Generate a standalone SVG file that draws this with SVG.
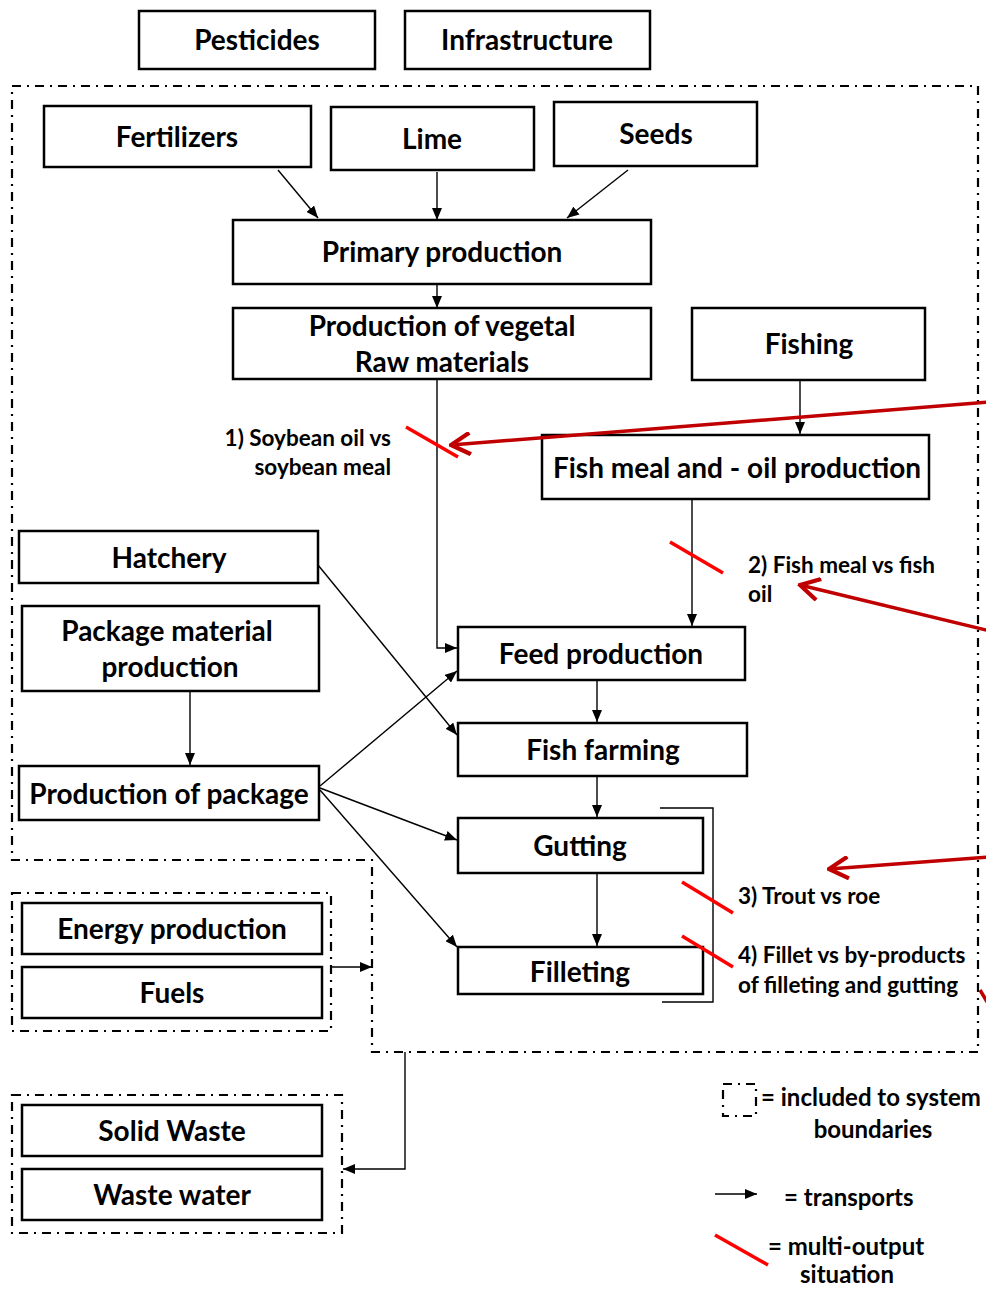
<svg xmlns="http://www.w3.org/2000/svg" width="986" height="1290" viewBox="0 0 986 1290">
<style>
.box{fill:#fff;stroke:#000;stroke-width:2.5}
.t{font-family:Lato,"Open Sans",sans-serif;font-weight:bold;font-size:28px;text-anchor:middle;fill:#000}
.s{font-family:Lato,"Open Sans",sans-serif;font-weight:bold;font-size:22.5px;fill:#000}
.l{font-size:24px}
.bd{fill:none;stroke:#000;stroke-width:2.2;stroke-dasharray:9 6 2 6}
.c{fill:none;stroke:#000;stroke-width:1.4}
.r{stroke:#f00;stroke-width:3.5}
.ra{fill:none;stroke:#c00000;stroke-width:3.5}
</style>
<defs>
<marker id="a" viewBox="0 0 12 10" refX="12" refY="5" markerWidth="12" markerHeight="10" markerUnits="userSpaceOnUse" orient="auto"><path d="M0,0L12,5L0,10z" fill="#000"/></marker>
<marker id="rh" viewBox="0 0 20 20" refX="18" refY="10" markerWidth="24" markerHeight="24" markerUnits="userSpaceOnUse" orient="auto"><path d="M2,1L18,10L2,19" fill="none" stroke="#c00000" stroke-width="3.5"/></marker>
</defs>
<g id="boundaries">
<path class="bd" d="M12,86H978V1052H372V860H12Z"/>
<rect class="bd" x="12" y="893" width="319" height="138"/>
<rect class="bd" x="12" y="1095" width="330" height="138"/>
</g>
<g id="connectors">
<line class="c" x1="278" y1="170" x2="318" y2="218" marker-end="url(#a)"/>
<line class="c" x1="437" y1="172" x2="437" y2="220" marker-end="url(#a)"/>
<line class="c" x1="628" y1="170" x2="567" y2="218" marker-end="url(#a)"/>
<line class="c" x1="437" y1="284" x2="437" y2="308" marker-end="url(#a)"/>
<path class="c" d="M437,380V648H457" marker-end="url(#a)"/>
<line class="c" x1="800" y1="380" x2="800" y2="434" marker-end="url(#a)"/>
<line class="c" x1="692" y1="499" x2="692" y2="626" marker-end="url(#a)"/>
<line class="c" x1="318" y1="565" x2="457" y2="735" marker-end="url(#a)"/>
<line class="c" x1="190" y1="691" x2="190" y2="765" marker-end="url(#a)"/>
<line class="c" x1="320" y1="786" x2="457" y2="671" marker-end="url(#a)"/>
<line class="c" x1="320" y1="788" x2="457" y2="840" marker-end="url(#a)"/>
<line class="c" x1="320" y1="790" x2="457" y2="947" marker-end="url(#a)"/>
<line class="c" x1="597" y1="680" x2="597" y2="722" marker-end="url(#a)"/>
<line class="c" x1="597" y1="776" x2="597" y2="817" marker-end="url(#a)"/>
<line class="c" x1="597" y1="873" x2="597" y2="946" marker-end="url(#a)"/>
<line class="c" x1="331" y1="967" x2="372" y2="967" marker-end="url(#a)"/>
<path class="c" d="M405,1052V1169H343" marker-end="url(#a)"/>
<path class="c" d="M660,808H713V1002H662"/>
</g>
<g id="pesticides"><rect class="box" x="139" y="11" width="236" height="58"/><text class="t" x="257" y="50">Pesticides</text></g>
<g id="infrastructure"><rect class="box" x="405" y="11" width="245" height="58"/><text class="t" x="527" y="50">Infrastructure</text></g>
<g id="fertilizers"><rect class="box" x="44" y="106" width="267" height="61"/><text class="t" x="177" y="147">Fertilizers</text></g>
<g id="lime"><rect class="box" x="331" y="107" width="203" height="63"/><text class="t" x="432" y="149">Lime</text></g>
<g id="seeds"><rect class="box" x="554" y="102" width="203" height="64"/><text class="t" x="656" y="144">Seeds</text></g>
<g id="primary"><rect class="box" x="233" y="220" width="418" height="64"/><text class="t" x="442" y="262">Primary production</text></g>
<g id="vegetal"><rect class="box" x="233" y="308" width="418" height="71"/><text class="t" x="442" y="336">Production of vegetal</text><text class="t" x="442" y="372">Raw materials</text></g>
<g id="fishing"><rect class="box" x="692" y="308" width="233" height="72"/><text class="t" x="809" y="354">Fishing</text></g>
<g id="fishmeal"><rect class="box" x="542" y="435" width="387" height="64"/><text class="t" x="737" y="478">Fish meal and - oil production</text></g>
<g id="hatchery"><rect class="box" x="19" y="531" width="299" height="52"/><text class="t" x="169" y="568">Hatchery</text></g>
<g id="packagematerial"><rect class="box" x="22" y="606" width="297" height="85"/><text class="t" x="167" y="641">Package material</text><text class="t" x="170" y="677">production</text></g>
<g id="feed"><rect class="box" x="458" y="627" width="287" height="53"/><text class="t" x="601" y="664">Feed production</text></g>
<g id="fishfarming"><rect class="box" x="458" y="723" width="289" height="53"/><text class="t" x="603" y="760">Fish farming</text></g>
<g id="package"><rect class="box" x="19" y="766" width="300" height="54"/><text class="t" x="169" y="804">Production of package</text></g>
<g id="gutting"><rect class="box" x="458" y="818" width="245" height="55"/><text class="t" x="580" y="856">Gutting</text></g>
<g id="filleting"><rect class="box" x="458" y="947" width="245" height="47"/><text class="t" x="580" y="982">Filleting</text></g>
<g id="energy"><rect class="box" x="22" y="903" width="300" height="51"/><text class="t" x="172" y="939">Energy production</text></g>
<g id="fuels"><rect class="box" x="22" y="967" width="300" height="51"/><text class="t" x="172" y="1003">Fuels</text></g>
<g id="solidwaste"><rect class="box" x="22" y="1105" width="300" height="51"/><text class="t" x="172" y="1141">Solid Waste</text></g>
<g id="wastewater"><rect class="box" x="22" y="1169" width="300" height="51"/><text class="t" x="172" y="1205">Waste water</text></g>
<g id="multi-output">
<line class="r" x1="406" y1="427" x2="458" y2="457"/>
<line class="r" x1="670" y1="542" x2="723" y2="573"/>
<line class="r" x1="682" y1="882" x2="733" y2="913"/>
<line class="r" x1="682" y1="936" x2="733" y2="967"/>
<line class="ra" x1="990" y1="402" x2="451" y2="445" marker-end="url(#rh)"/>
<line class="ra" x1="990" y1="631" x2="800" y2="585" marker-end="url(#rh)"/>
<line class="ra" x1="990" y1="857" x2="829" y2="869" marker-end="url(#rh)"/>
<path d="M980,990L986,1000L992,988" fill="none" stroke="#c00000" stroke-width="3.5"/>
</g>
<g id="labels">
<text class="s" x="391" y="446" text-anchor="end">1) Soybean oil vs</text>
<text class="s" x="391" y="475" text-anchor="end">soybean meal</text>
<text class="s" x="748" y="573">2) Fish meal vs fish</text>
<text class="s" x="748" y="602">oil</text>
<text class="s" x="738" y="904">3) Trout vs roe</text>
<text class="s" x="738" y="963">4) Fillet vs by-products</text>
<text class="s" x="738" y="993">of filleting and gutting</text>
</g>
<g id="legend">
<rect class="bd" x="723" y="1084" width="33" height="32" stroke-width="1.8"/>
<text class="s l" x="761" y="1106">= included to system</text>
<text class="s l" x="873" y="1138" text-anchor="middle">boundaries</text>
<line class="c" x1="715" y1="1194" x2="757" y2="1194" marker-end="url(#a)"/>
<text class="s l" x="784" y="1206">= transports</text>
<line class="r" x1="715" y1="1235" x2="768" y2="1265"/>
<text class="s l" x="768" y="1255">= multi-output</text>
<text class="s l" x="847" y="1283" text-anchor="middle">situation</text>
</g>
</svg>
